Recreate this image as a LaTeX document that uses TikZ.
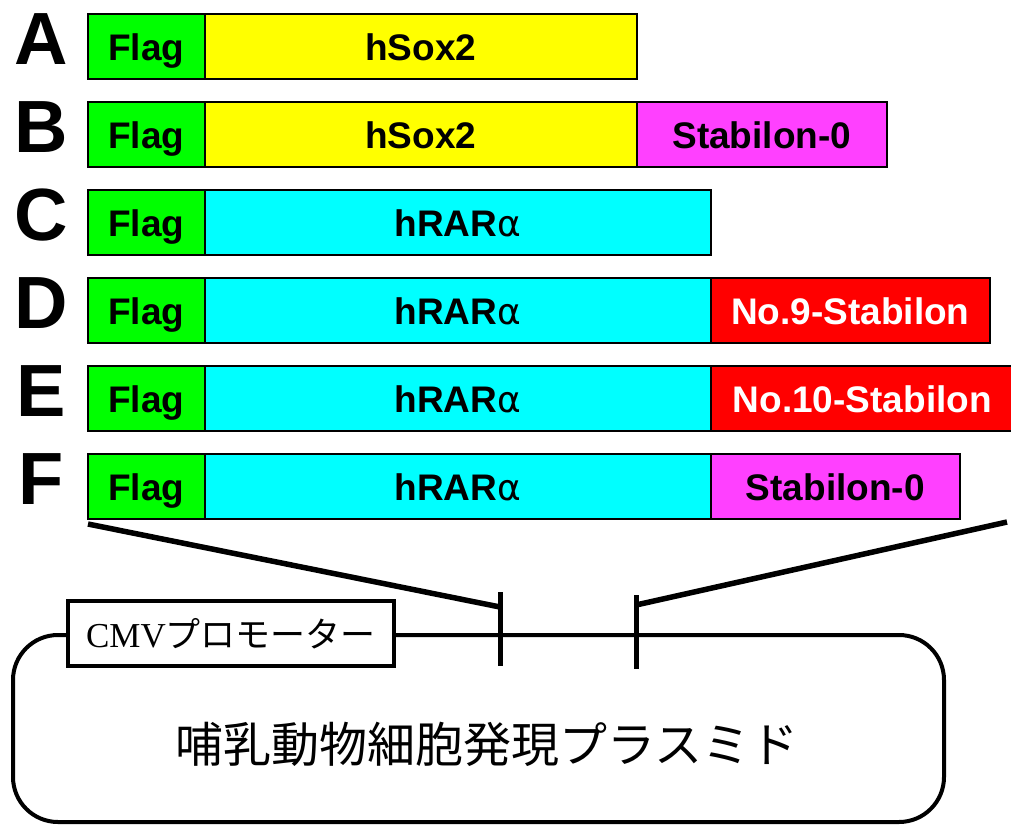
\documentclass[tikz,border=0pt]{standalone}
\usepackage{fontspec}
\setmainfont{Liberation Sans}
\newfontfamily\cjkfont{Noto Sans CJK JP}
\newfontfamily\serffont{Liberation Serif}
\newfontfamily\grkfont{DejaVu Sans}
\definecolor{flaggreen}{HTML}{00FF00}
\definecolor{soxyellow}{HTML}{FFFF00}
\definecolor{rarcyan}{HTML}{00FFFF}
\definecolor{stabmag}{HTML}{FF40FF}
\definecolor{stabred}{HTML}{FF0000}
\newcommand{\alphachar}{{\fontsize{36}{36}\selectfont\mdseries\grkfont α}}
\tikzset{
  seg/.style={draw=black, line width=1.6pt, anchor=north west, minimum height=65pt,
    inner sep=0pt, text height=30pt, text depth=1pt, font=\fontsize{37}{37}\selectfont\bfseries},
  flagseg/.style={seg, fill=flaggreen, minimum width=117pt},
  soxseg/.style={seg, fill=soxyellow, minimum width=432pt},
  rarseg/.style={seg, fill=rarcyan, minimum width=506pt},
  rowlabel/.style={font=\fontsize{74}{74}\selectfont\bfseries, anchor=center},
  thickline/.style={line width=5.5pt},
  tickline/.style={line width=5pt},
  plasline/.style={line width=4pt}
}
\begin{document}
\begin{tikzpicture}[x=1pt,y=-1pt]
\useasboundingbox (0,0) rectangle (1011,827);
% row labels
\node[rowlabel] (lA) at (41,39) {A};
\node[rowlabel] (lB) at (41,127) {B};
\node[rowlabel] (lC) at (41,215) {C};
\node[rowlabel] (lD) at (41,303) {D};
\node[rowlabel] (lE) at (41,391) {E};
\node[rowlabel] (lF) at (41,479) {F};
% row A
\node[flagseg] (fA) at (87,13) {Flag};
\node[soxseg] (sA) at (204,13) {hSox2};
% row B
\node[flagseg] (fB) at (87,101) {Flag};
\node[soxseg] (sB) at (204,101) {hSox2};
\node[seg, fill=stabmag, minimum width=250pt] (tB) at (636,101) {Stabilon-0};
% row C
\node[flagseg] (fC) at (87,189) {Flag};
\node[rarseg] (rC) at (204,189) {hRAR\alphachar};
% row D
\node[flagseg] (fD) at (87,277) {Flag};
\node[rarseg] (rD) at (204,277) {hRAR\alphachar};
\node[seg, fill=stabred, text=white, minimum width=279pt] (tD) at (710,277) {No.9-Stabilon};
% row E
\node[flagseg] (fE) at (87,365) {Flag};
\node[rarseg] (rE) at (204,365) {hRAR\alphachar};
\node[seg, fill=stabred, text=white, minimum width=303pt] (tE) at (710,365) {No.10-Stabilon};
% row F
\node[flagseg] (fF) at (87,453) {Flag};
\node[rarseg] (rF) at (204,453) {hRAR\alphachar};
\node[seg, fill=stabmag, minimum width=249pt] (tF) at (710,453) {Stabilon-0};
% zoom lines
\coordinate (zl) at (88,524);
\coordinate (zr) at (1007,522);
\coordinate (tl) at (500,607);
\coordinate (tr) at (636,605);
\draw[thickline] (zl) -- (tl);
\draw[thickline] (zr) -- (tr);
% plasmid
\node[draw=black, line width=4pt, minimum width=326pt, minimum height=65pt, anchor=north west,
  inner sep=0pt] (cmv) at (66,599) {\fontsize{35}{35}\selectfont\serffont CMV\cjkfont プロモーター};
\draw[plasline, rounded corners=45pt] (cmv.east |- 0,635) -- (944,635) -- (944,822) -- (13,822) -- (13,635) -- (cmv.west |- 0,635);
\coordinate (t1a) at (500,592);
\coordinate (t1b) at (500,666);
\coordinate (t2a) at (636,595);
\coordinate (t2b) at (636,669);
\draw[tickline] (t1a) -- (t1b);
\draw[tickline] (t2a) -- (t2b);
\node[font=\fontsize{48}{48}\selectfont\cjkfont] (title) at (487,744) {哺乳動物細胞発現プラスミド};
\end{tikzpicture}
\end{document}
